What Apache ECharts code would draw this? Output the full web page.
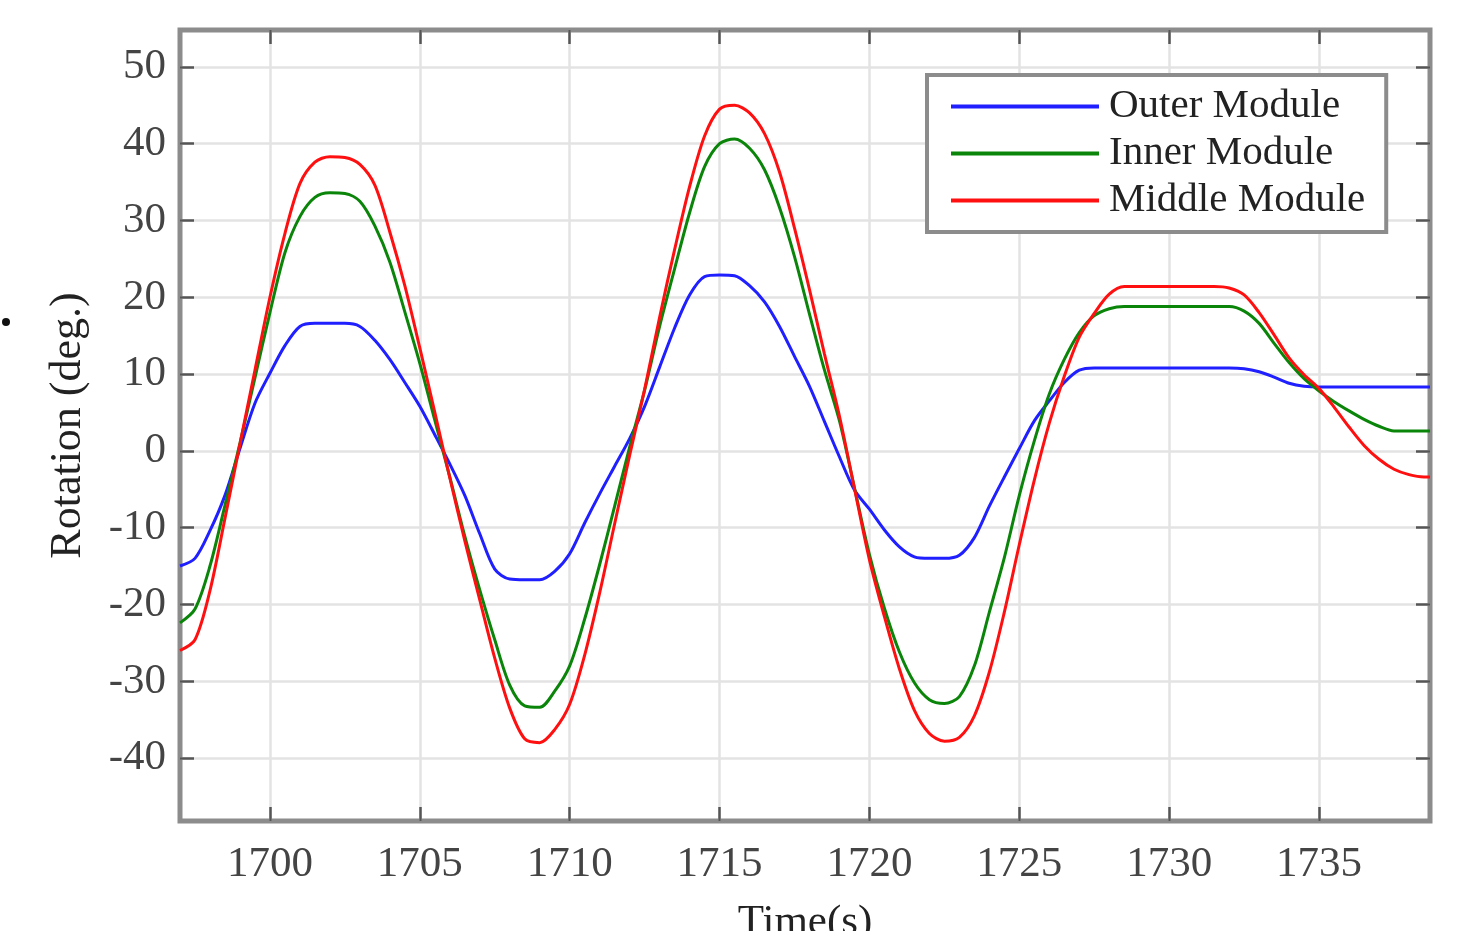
<!DOCTYPE html>
<html>
<head>
<meta charset="utf-8">
<title>Rotation</title>
<script src="https://cdn.jsdelivr.net/npm/echarts@6/dist/echarts.min.js"></script>
<style>
  html, body { margin: 0; padding: 0; background: #fff; }
  #chart { width: 1458px; height: 931px; }
</style>
</head>
<body>
<div id="chart"></div>
<script>
// sample times (s)
var time = [
  1697.0, 1697.5, 1698.0, 1698.5, 1699.0, 1699.5,
  1700.0, 1700.5, 1701.0, 1701.5, 1702.0, 1702.5, 1703.0, 1703.5, 1704.0, 1704.5,
  1705.0, 1705.5, 1706.0, 1706.5, 1707.0, 1707.5, 1708.0, 1708.5, 1709.0, 1709.5,
  1710.0, 1710.5, 1711.0, 1711.5, 1712.0, 1712.5, 1713.0, 1713.5, 1714.0, 1714.5,
  1715.0, 1715.5, 1716.0, 1716.5, 1717.0, 1717.5, 1718.0, 1718.5, 1719.0, 1719.5,
  1720.0, 1720.5, 1721.0, 1721.5, 1722.0, 1722.5, 1723.0, 1723.5, 1724.0, 1724.5,
  1725.0, 1725.5, 1726.0, 1726.5, 1727.0, 1727.5, 1728.0, 1728.5, 1729.0, 1729.5,
  1730.0, 1730.5, 1731.0, 1731.5, 1732.0, 1732.5, 1733.0, 1733.5, 1734.0, 1734.5,
  1735.0, 1735.5, 1736.0, 1736.5, 1737.0, 1737.5, 1738.0, 1738.5, 1738.7
];

// rotation (deg.)
var outerModule = [
  -15.0, -14.0, -10.4, -5.8, 0.3, 6.2,
  10.1, 13.7, 16.2, 16.6, 16.6, 16.6, 16.2, 14.4, 11.9, 8.9,
  5.8, 2.1, -1.7, -5.8, -10.8, -15.4, -16.7, -16.8, -16.8, -15.7,
  -13.4, -9.4, -5.6, -2.0, 1.6, 5.8, 10.9, 16.0, 20.3, 22.7,
  22.9, 22.8, 21.5, 19.4, 16.2, 12.3, 8.4, 3.8, -0.8, -5.1,
  -7.6, -10.3, -12.5, -13.8, -14.0, -14.0, -13.6, -11.3, -7.2, -3.4,
  0.3, 3.9, 6.5, 8.9, 10.5, 10.8, 10.8, 10.8, 10.8, 10.8,
  10.8, 10.8, 10.8, 10.8, 10.8, 10.7, 10.3, 9.6, 8.8, 8.4,
  8.3, 8.3, 8.3, 8.3, 8.3, 8.3, 8.3, 8.3, 8.3
];
var innerModule = [
  -22.4, -20.6, -15.0, -7.1, 1.0, 9.5,
  18.0, 25.8, 30.5, 33.0, 33.6, 33.5, 32.5, 29.3, 24.6, 18.1,
  11.4, 4.0, -3.4, -11.1, -18.1, -24.6, -30.5, -33.2, -33.4, -31.3,
  -28.0, -21.9, -14.8, -7.2, 0.5, 7.9, 16.2, 23.7, 31.0, 37.0,
  40.0, 40.6, 39.4, 36.6, 31.7, 25.3, 17.8, 10.5, 3.9, -4.8,
  -13.5, -20.5, -26.2, -30.2, -32.4, -32.9, -32.0, -28.0, -21.0, -13.9,
  -5.8, 1.3, 7.4, 11.9, 15.4, 17.6, 18.5, 18.8, 18.8, 18.8,
  18.8, 18.8, 18.8, 18.8, 18.8, 18.2, 16.6, 14.0, 11.5, 9.4,
  7.8, 6.4, 5.2, 4.1, 3.2, 2.6, 2.6, 2.6, 2.6
];
var middleModule = [
  -26.0, -24.6, -18.2, -8.8, 0.9, 10.5,
  20.0, 28.3, 34.8, 37.6, 38.3, 38.2, 37.3, 34.6, 28.5, 21.5,
  13.4, 5.0, -3.5, -11.7, -19.4, -27.0, -33.5, -37.5, -38.0, -36.3,
  -33.0, -26.6, -18.5, -9.5, -0.6, 8.0, 17.4, 26.2, 34.4, 41.0,
  44.5, 45.0, 44.0, 41.3, 36.3, 29.0, 21.0, 12.6, 4.5, -4.9,
  -14.2, -21.6, -28.4, -33.8, -36.8, -37.8, -37.3, -34.5, -28.8, -21.0,
  -12.2, -3.8, 3.6, 9.7, 14.8, 17.9, 20.4, 21.4, 21.4, 21.4,
  21.4, 21.4, 21.4, 21.4, 21.2, 20.3, 18.0, 15.1, 12.1, 9.9,
  8.1, 5.7, 3.1, 0.7, -1.1, -2.4, -3.1, -3.4, -3.4
];

// tick labels
var xTicks = [1700, 1705, 1710, 1715, 1720, 1725, 1730, 1735];
var yTicks = [-40, -30, -20, -10, 0, 10, 20, 30, 40, 50];

var seriesNames = ['Outer Module', 'Inner Module', 'Middle Module'];
var seriesColors = ['#1f1fff', '#0a850a', '#ff1010'];

function pairs(ys) {
  var out = [];
  for (var i = 0; i < time.length; i++) out.push([time[i], ys[i]]);
  return out;
}

var font = 'Liberation Serif';
var gridLine = { show: true, lineStyle: { color: '#e3e3e3', width: 2.5 } };
function ticks(values) {
  return { show: true, inside: true, length: 14, customValues: values, lineStyle: { color: '#555', width: 2.5 } };
}

var myChart = echarts.init(document.getElementById('chart'));

var option = {
  backgroundColor: '#fff',
  animation: false,
  grid: {
    left: 180, top: 30, right: 28, bottom: 110,
    outerBoundsMode: 'none', containLabel: false,
    show: true, borderColor: '#8c8c8c', borderWidth: 5, backgroundColor: 'transparent'
  },
  legend: {
    orient: 'vertical',
    left: 927, top: 75,
    padding: [11, 21, 11, 22],
    itemWidth: 148, itemHeight: 14, itemGap: 6,
    backgroundColor: '#fff',
    borderColor: '#8c8c8c', borderWidth: 4,
    itemStyle: { opacity: 0 },
    lineStyle: { width: 4 },
    textStyle: { fontFamily: font, fontSize: 41, lineHeight: 41, color: '#222', padding: [0, 0, 0, 5] },
    data: seriesNames
  },
  xAxis: [{
    type: 'value', min: 1697, max: 1738.7,
    name: 'Time(s)', nameLocation: 'middle', nameGap: 80,
    nameTextStyle: { fontFamily: font, fontSize: 43, color: '#222' },
    axisLine: { show: false, onZero: false },
    axisTick: ticks(xTicks),
    splitLine: gridLine,
    axisLabel: {
      fontFamily: font, fontSize: 43, color: '#444', margin: 22, customValues: xTicks,
      formatter: function (v) { return String(v); }
    }
  }, {
    type: 'value', position: 'top', min: 1697, max: 1738.7,
    axisLine: { show: false, onZero: false }, axisTick: ticks(xTicks),
    axisLabel: { show: false }, splitLine: { show: false }
  }],
  yAxis: [{
    type: 'value', min: -48.2, max: 54.8,
    name: 'Rotation (deg.)', nameLocation: 'middle', nameGap: 90,
    nameTextStyle: { fontFamily: font, fontSize: 44, color: '#222' },
    axisLine: { show: false, onZero: false },
    axisTick: ticks(yTicks),
    splitLine: gridLine,
    axisLabel: {
      fontFamily: font, fontSize: 43, color: '#444', margin: 14, customValues: yTicks,
      formatter: function (v) { return String(v); }
    }
  }, {
    type: 'value', position: 'right', min: -48.2, max: 54.8,
    axisLine: { show: false, onZero: false }, axisTick: ticks(yTicks),
    axisLabel: { show: false }, splitLine: { show: false }
  }],
  graphic: [{
    type: 'circle', shape: { cx: 6, cy: 322, r: 4 }, style: { fill: '#111' }
  }],
  series: [outerModule, innerModule, middleModule].map(function (ys, i) {
    return {
      name: seriesNames[i],
      type: 'line',
      data: pairs(ys),
      symbol: 'none',
      smooth: 0.3,
      color: seriesColors[i],
      lineStyle: { width: 3, color: seriesColors[i] },
      z: 3 + i
    };
  })
};

// 为echarts对象加载数据
myChart.setOption(option);
</script>
</body>
</html>
